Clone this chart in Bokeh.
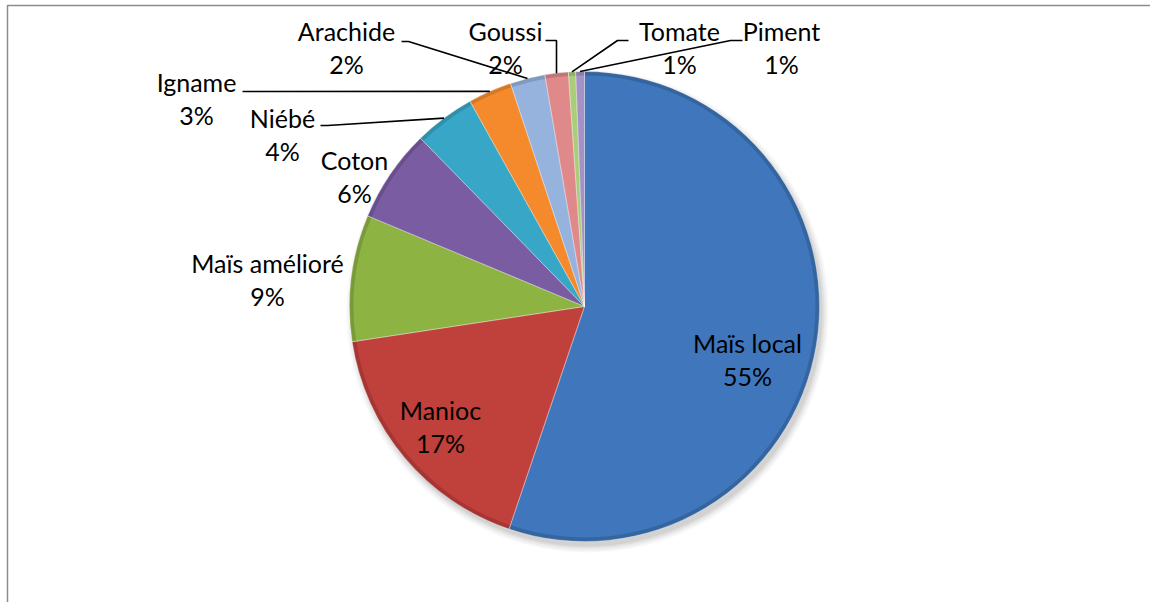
import numpy as np
from bokeh.plotting import figure
from bokeh.models import Range1d, ColumnDataSource
from bokeh.core.properties import value
from bokeh.embed import file_html
from bokeh.resources import INLINE

# ---- data ----
categories = ["Maïs local", "Manioc", "Maïs amélioré", "Coton", "Niébé",
              "Igname", "Arachide", "Goussi", "Tomate", "Piment"]
shares = [55.2, 17.4, 8.7, 6.4, 4.2, 3.0, 2.4, 1.6, 0.5, 0.6]

# ---- styles ----
colors = ["#3F76BC", "#C0403C", "#8DB443", "#7A5CA3", "#38A7C7",
          "#F48A2C", "#96B3DE", "#E0898B", "#A9CD78", "#A392C6"]
rim = ["#34659F", "#A53633", "#789A39", "#684E8C", "#308FAA",
       "#D67826", "#8099BE", "#C07577", "#91B067", "#8B7DA9"]

W, H = 1150, 602
CX, CY, R = 584, H - 306, 235


def Y(py):
    return H - py


# label layout (pixel positions of name line; percent line below)
label_pos = {
    "Maïs local": (747, 342), "Manioc": (440, 409), "Maïs amélioré": (267, 262),
    "Coton": (354, 159), "Niébé": (282, 117), "Igname": (196, 81),
    "Arachide": (346, 30), "Goussi": (505, 30), "Tomate": (679, 30),
    "Piment": (781, 30),
}
# leader line anchors near labels (pixel): list of points before slice point
leader_anchor = {
    "Niébé": [(320, 125), (327, 125)],
    "Igname": [(242, 91), (249, 91)],
    "Arachide": [(401, 41), (408, 41)],
    "Goussi": [(545, 40), (556, 40)],
    "Tomate": [(628, 40), (617, 40)],
    "Piment": [(742, 40), (730, 40)],
}

p = figure(width=W, height=H, x_range=Range1d(0, W), y_range=Range1d(0, H),
           output_backend="svg", toolbar_location=None, min_border=0,
           x_axis_location=None, y_axis_location=None)
p.grid.visible = False
p.outline_line_color = None
p.background_fill_color = "white"

# chart border (top and left visible)
p.line(x=[7, 7, W + 5], y=[-5, Y(5), Y(5)], line_color="#8C8C8C", line_width=1.5)

tot = float(sum(shares))
cum = np.concatenate([[0.0], np.cumsum(shares)]) / tot * 2 * np.pi
starts = np.pi / 2 - cum[1:]
ends = np.pi / 2 - cum[:-1]
mids = (cum[1:] + cum[:-1]) / 2

# soft shadow
for k, a in [(6, 0.03), (4, 0.04), (2, 0.05), (0, 0.06)]:
    p.circle(x=[CX + 3], y=[CY - 5], radius=R + k, fill_color="black",
             fill_alpha=a, line_color=None)

src = ColumnDataSource(dict(start=starts, end=ends, color=colors, rim=rim))
p.wedge(x=CX, y=CY, radius=R, start_angle="start", end_angle="end",
        fill_color="rim", line_color=None, source=src)
p.wedge(x=CX, y=CY, radius=R - 4, start_angle="start", end_angle="end",
        fill_color="color", line_color=None, source=src)
p.wedge(x=CX, y=CY, radius=R, start_angle="start", end_angle="end",
        fill_color=None, line_color="#FFFFFF", line_alpha=0.3, line_width=1,
        source=src)

# labels
font = value("Lato")
nx, ny, px_, py_, names, pcts = [], [], [], [], [], []
for c, s in zip(categories, shares):
    lx, ly = label_pos[c]
    nx.append(lx); ny.append(Y(ly)); names.append(c)
    px_.append(lx); py_.append(Y(ly + 33)); pcts.append(f"{int(s + 0.5)}%")
p.text(x=nx, y=ny, text=names, text_font=font, text_font_size="25px",
       text_align="center", text_baseline="middle", text_color="#000000")
p.text(x=px_, y=py_, text=pcts, text_font=font, text_font_size="25px",
       text_align="center", text_baseline="middle", text_color="#000000")

# leader lines
xs, ys = [], []
for i, c in enumerate(categories):
    if c in leader_anchor:
        pts = leader_anchor[c]
        ex = CX + R * np.sin(mids[i])
        ey = CY + R * np.cos(mids[i])
        xs.append([pt[0] for pt in pts] + [ex])
        ys.append([Y(pt[1]) for pt in pts] + [ey])
p.multi_line(xs=xs, ys=ys, line_color="#000000", line_width=1.6)

open("out.html", "w").write(file_html(p, INLINE))
